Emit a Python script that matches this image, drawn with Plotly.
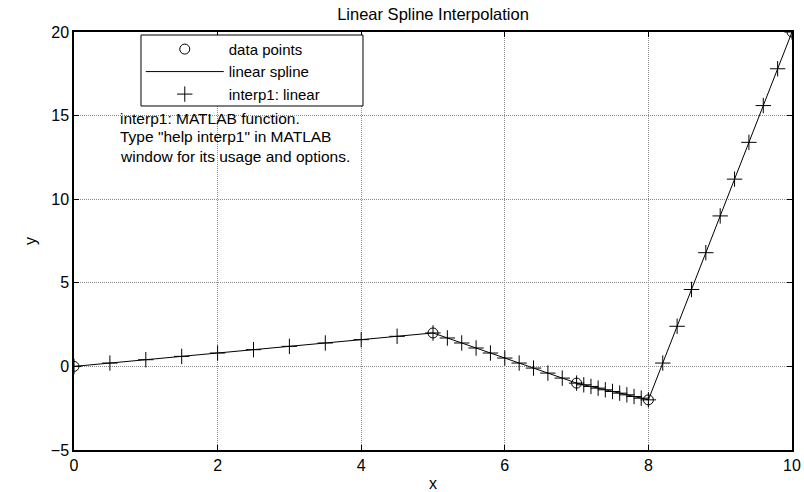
import plotly.graph_objects as go

# Known data points
x_data = [0, 5, 7, 8, 10]
y_data = [0, 2, -1, -2, 20]

# Points evaluated with interp1 (linear) on each interval
xi = [0, 0.5, 1, 1.5, 2, 2.5, 3, 3.5, 4, 4.5, 5,
      5.2, 5.4, 5.6, 5.8, 6.0, 6.2, 6.4, 6.6, 6.8, 7.0,
      7.1, 7.2, 7.3, 7.4, 7.5, 7.6, 7.7, 7.8, 7.9, 8.0,
      8.2, 8.4, 8.6, 8.8, 9.0, 9.2, 9.4, 9.6, 9.8, 10.0]
yi = [0, 0.2, 0.4, 0.6, 0.8, 1.0, 1.2, 1.4, 1.6, 1.8, 2.0,
      1.7, 1.4, 1.1, 0.8, 0.5, 0.2, -0.1, -0.4, -0.7, -1.0,
      -1.1, -1.2, -1.3, -1.4, -1.5, -1.6, -1.7, -1.8, -1.9, -2.0,
      0.2, 2.4, 4.6, 6.8, 9.0, 11.2, 13.4, 15.6, 17.8, 20.0]

x_ticks = [0, 2, 4, 6, 8, 10]
y_ticks = [-5, 0, 5, 10, 15, 20]

note_lines = ["interp1: MATLAB function.",
              'Type "help interp1" in MATLAB',
              "window for its usage and options."]

FONT = "Liberation Sans, Arial, sans-serif"

fig = go.Figure()

fig.add_trace(go.Scatter(
    x=x_data, y=y_data, mode="lines", name="linear spline",
    line=dict(color="black", width=1), legendrank=2,
))
fig.add_trace(go.Scatter(
    x=x_data, y=y_data, mode="markers", name="data points",
    marker=dict(symbol="circle-open", size=10, color="black",
                line=dict(width=1, color="black")),
    legendrank=1,
))
fig.add_trace(go.Scatter(
    x=xi, y=yi, mode="markers", name="interp1: linear",
    marker=dict(symbol="cross-thin-open", size=11, color="black",
                line=dict(width=1, color="black")),
    legendrank=3,
))

axis_common = dict(
    showline=True, linecolor="black", linewidth=1.5, mirror="ticks",
    ticks="inside", ticklen=5, tickcolor="black",
    showgrid=True, gridcolor="#8a8a8a", griddash="1px,1px", gridwidth=1,
    zeroline=False, automargin=False,
    tickfont=dict(family=FONT, size=16, color="black"),
)

fig.update_xaxes(range=[0, 10], tickvals=x_ticks, **axis_common,
                 title=dict(text="x", font=dict(family=FONT, size=16, color="black"),
                            standoff=5))
fig.update_yaxes(range=[-5, 20], tickvals=y_ticks, **axis_common,
                 title=dict(text="y", font=dict(family=FONT, size=16, color="black"),
                            standoff=10))

note_y = [0.794, 0.749, 0.703]
for line, yy in zip(note_lines, note_y):
    fig.add_annotation(
        x=0.0613, y=yy, xref="paper", yref="paper",
        xanchor="left", yanchor="middle", showarrow=False, text=line,
        font=dict(family=FONT, size=15.5, color="black"),
    )

# White framed box behind the legend entries
fig.add_shape(
    type="rect", xref="paper", yref="paper",
    x0=0.0933, x1=0.4025, y0=0.823, y1=0.9928,
    fillcolor="white", line=dict(color="black", width=1), layer="above",
)

fig.update_layout(
    width=804, height=492,
    margin=dict(l=74, r=12, t=32, b=42),
    paper_bgcolor="white", plot_bgcolor="white",
    title=dict(text="Linear Spline Interpolation", x=0.5386, xanchor="center",
               y=0.9715, yanchor="middle",
               font=dict(family=FONT, size=16.5, color="black")),
    legend=dict(
        x=0.093, y=0.998, xanchor="left", yanchor="top",
        bgcolor="rgba(0,0,0,0)", borderwidth=0,
        itemwidth=78, traceorder="normal",
        font=dict(family=FONT, size=15, color="black"),
    ),
    showlegend=True,
)

fig.write_html("out.html")
